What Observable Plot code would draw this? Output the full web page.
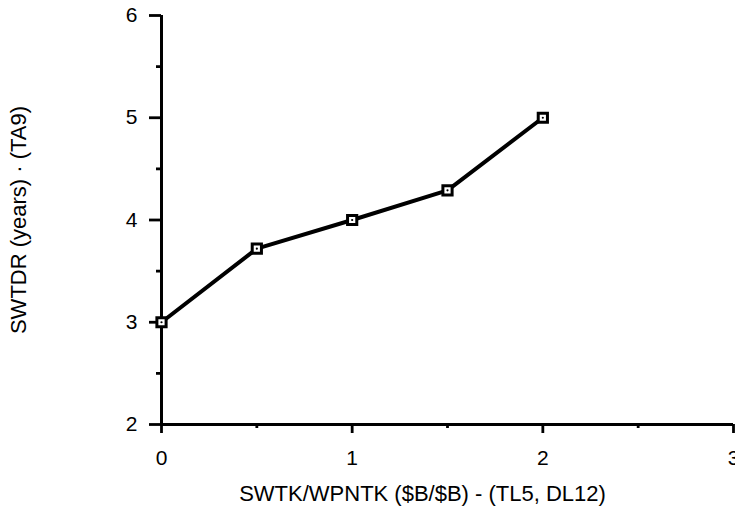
<!DOCTYPE html>
<html>
<head>
<meta charset="utf-8">
<script src="https://cdn.jsdelivr.net/npm/d3@7"></script>
<script src="https://cdn.jsdelivr.net/npm/@observablehq/plot@0.6"></script>
<style>
  body { margin: 0; background: #fff; }
  svg { overflow: visible; }
</style>
</head>
<body>
<div id="chart"></div>
<script>
const xValues = [0, 0.5, 1, 1.5, 2];
const yValues = [3.0, 3.72, 4.0, 4.29, 5.0];
const xMajorTicks = [0, 1, 2, 3];
const xMinorTicks = [0.5, 1.5, 2.5];
const yMajorTicks = [2, 3, 4, 5, 6];
const yMinorTicks = [2.5, 3.5, 4.5, 5.5];
const xLabel = "SWTK/WPNTK ($B/$B) - (TL5, DL12)";
const yLabel = "SWTDR (years) · (TA9)";

const data = xValues.map((x, i) => ({x, y: yValues[i]}));

const chart = Plot.plot({
  width: 735,
  height: 510,
  marginLeft: 161,
  marginRight: 2,
  marginTop: 15,
  marginBottom: 86,
  style: {fontFamily: "'Liberation Sans', Arial, sans-serif", fontSize: "21px", background: "#fff", color: "#000", overflow: "visible"},
  x: {domain: [0, 3]},
  y: {domain: [2, 6]},
  marks: [
    Plot.axisX(xMajorTicks, {tickSize: 9, strokeWidth: 2.8, tickFormat: () => "", label: null}),
    Plot.axisX(xMinorTicks, {tickSize: 4, strokeWidth: 2.8, tickFormat: () => "", label: null}),
    Plot.axisY(yMajorTicks, {tickSize: 12, strokeWidth: 2.8, tickFormat: () => "", label: null}),
    Plot.axisY(yMinorTicks, {tickSize: 5, strokeWidth: 2.8, tickFormat: () => "", label: null}),
    Plot.text(xMajorTicks, {x: d => d, frameAnchor: "bottom", lineAnchor: "top", dy: 26, fontSize: 21, text: d => String(d), fill: "#000"}),
    Plot.text(yMajorTicks, {y: d => d, frameAnchor: "left", textAnchor: "end", dx: -24, fontSize: 21, text: d => String(d), fill: "#000"}),
    Plot.ruleX([0], {strokeWidth: 3}),
    Plot.ruleY([2], {strokeWidth: 3}),
    Plot.line(data, {x: "x", y: "y", stroke: "#000", strokeWidth: 4}),
    Plot.dot(data, {x: "x", y: "y", symbol: "square", r: 5.2, fill: "#fff", stroke: "#000", strokeWidth: 3}),
    Plot.dot(data, {x: "x", y: "y", r: 1.1, fill: "#000"}),
    Plot.text([xLabel], {frameAnchor: "bottom", lineAnchor: "middle", dx: -25, dy: 69, fontSize: 22, text: d => d, fill: "#000"}),
    Plot.text([yLabel], {frameAnchor: "left", textAnchor: "middle", dx: -143, rotate: -90, fontSize: 22, text: d => d, fill: "#000"})
  ]
});
document.getElementById("chart").appendChild(chart);
</script>
</body>
</html>
